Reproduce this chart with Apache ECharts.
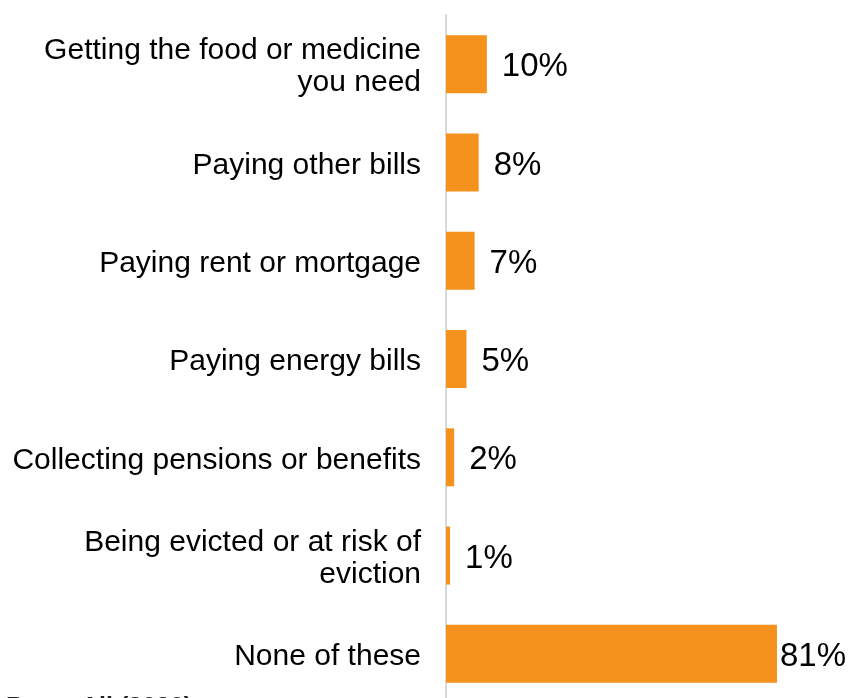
<!DOCTYPE html>
<html>
<head>
<meta charset="utf-8">
<script src="https://cdn.jsdelivr.net/npm/echarts@6/dist/echarts.min.js"></script>
<style>
  html, body { margin: 0; padding: 0; background: #fff; }
  #chart { width: 850px; height: 698px; }
</style>
</head>
<body>
<div id="chart"></div>
<script>
// Difficulties experienced, share of respondents (%)
const categories = [
  'Getting the food or medicine\nyou need',
  'Paying other bills',
  'Paying rent or mortgage',
  'Paying energy bills',
  'Collecting pensions or benefits',
  'Being evicted or at risk of\neviction',
  'None of these'
];
const values = [10, 8, 7, 5, 2, 1, 81];
const baseNote = 'Base: All (2020)';

const chart = echarts.init(document.getElementById('chart'), null, { renderer: 'canvas' });

const seriesData = values.map(function (v) {
  // the longest bar keeps its label close so it stays inside the frame
  if (v === Math.max.apply(null, values)) {
    return { value: v, label: { distance: 3 } };
  }
  return v;
});

chart.setOption({
  animation: false,
  grid: {
    left: 446, top: 15, width: 408.6, height: 688,
    containLabel: false,
    outerBoundsMode: 'none'
  },
  xAxis: {
    type: 'value',
    min: 0,
    max: 100,
    show: false
  },
  yAxis: {
    type: 'category',
    data: categories,
    inverse: true,
    axisLine: { show: true, lineStyle: { color: '#d9d9d9', width: 2 } },
    axisTick: { show: false },
    axisLabel: {
      margin: 25,
      color: '#000',
      align: 'right',
      formatter: function (v) { return '{t|' + v.split('\n').join('}\n{t|') + '}'; },
      rich: {
        t: {
          fontFamily: 'Liberation Sans, Arial, sans-serif',
          fontSize: 30,
          lineHeight: 32,
          color: '#000',
          padding: [6, 0, 0, 0]
        }
      }
    }
  },
  series: [{
    type: 'bar',
    data: seriesData,
    barWidth: '59%',
    itemStyle: { color: '#F5921E' },
    label: {
      show: true,
      position: 'right',
      distance: 15,
      formatter: '{c}%',
      fontFamily: 'Liberation Sans, Arial, sans-serif',
      fontSize: 33,
      color: '#000',
      offset: [0, 3]
    }
  }],
  graphic: [{
    type: 'text',
    left: 6,
    top: 696,
    style: {
      text: baseNote,
      fontFamily: 'Liberation Sans, Arial, sans-serif',
      fontSize: 25,
      fontWeight: 'bold',
      fill: '#222'
    }
  }]
});
</script>
</body>
</html>
